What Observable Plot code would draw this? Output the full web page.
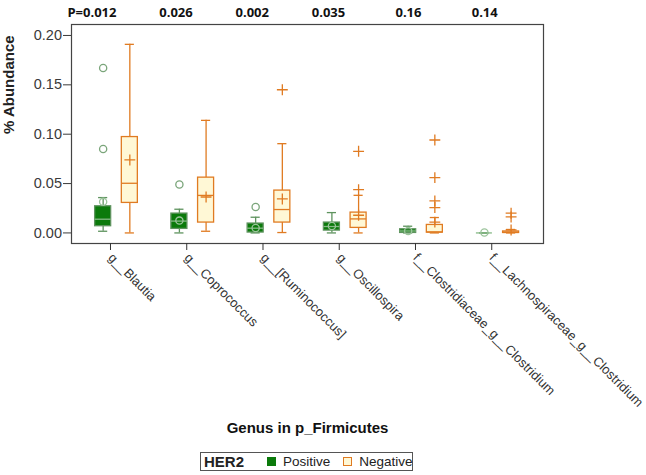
<!DOCTYPE html>
<html>
<head>
<meta charset="utf-8">
<script src="https://cdn.jsdelivr.net/npm/d3@7"></script>
<script src="https://cdn.jsdelivr.net/npm/@observablehq/plot@0.6"></script>
<style>
  html, body { margin: 0; padding: 0; background: #fff; }
  #wrap { position: relative; width: 646px; height: 475px; font-family: "Liberation Sans", Arial, sans-serif; }
  #legend { position: absolute; left: 200px; top: 452px; width: 211px; height: 17px; border: 1px solid #555;
            display: flex; align-items: center; font-size: 13.5px; color: #222; box-sizing: content-box; }
  #legend .title { font-weight: bold; font-size: 15px; margin-left: 3px; margin-right: 23px; }
  #legend .sw { width: 9px; height: 9px; display: inline-block; margin-right: 7px; box-sizing: border-box; }
  #legend .item { display: flex; align-items: center; margin-right: 13px; }
</style>
</head>
<body>
<div id="wrap"><div id="chart"></div><div id="legend"></div></div>
<script>
const genus = ["g__Blautia", "g__Coprococcus", "g__[Ruminococcus]", "g__Oscillospira",
               "f__Clostridiaceae_g__Clostridium", "f__Lachnospiraceae_g__Clostridium"];
const pValues = ["P=0.012", "0.026", "0.002", "0.035", "0.16", "0.14"];
const groups = ["Positive", "Negative"];
const legendTitle = "HER2";
const yTicks = [0, 0.05, 0.10, 0.15, 0.20];

// HER2 Positive
const posLow    = [0.0017, 0.0000, 0.0000, 0.0000, 0.0000, 0.0000];
const posQ1     = [0.0068, 0.0041, 0.0004, 0.0024, 0.0000, 0.0000];
const posMedian = [0.0139, 0.0120, 0.0048, 0.0065, 0.0020, 0.0000];
const posQ3     = [0.0270, 0.0196, 0.0095, 0.0105, 0.0037, 0.0000];
const posHigh   = [0.0358, 0.0240, 0.0159, 0.0206, 0.0068, 0.0000];
const posMean   = [0.0315, 0.0125, 0.0050, 0.0070, 0.0020, 0.0005];
const posOutliers = [[0.1670, 0.0850], [0.0490], [0.0263], [], [], []];

// HER2 Negative
const negLow    = [0.0000, 0.0017, 0.0004, 0.0000, 0.0000, 0.0000];
const negQ1     = [0.0304, 0.0105, 0.0105, 0.0051, 0.0003, 0.0000];
const negMedian = [0.0503, 0.0380, 0.0237, 0.0142, 0.0010, 0.0005];
const negQ3     = [0.0971, 0.0560, 0.0429, 0.0206, 0.0081, 0.0015];
const negHigh   = [0.1910, 0.1140, 0.0904, 0.0381, 0.0156, 0.0035];
const negMean   = [0.0739, 0.0364, 0.0344, 0.0179, 0.0110, 0.0030];
const negOutliers = [[], [], [0.1450], [0.0439, 0.0827], [0.0257, 0.0324, 0.0560, 0.0941], [0.0162, 0.0200]];

const style = {
  Positive: {off: -0.175, fill: "#0b7a0b", stroke: "#5e935e", median: "#86b986", mean: "#9cc49c", out: "#7aa57a", symbol: "circle", r: 3.6},
  Negative: {off: 0.175, fill: "#fff8d6", stroke: "#e07b22", median: "#e07b22", mean: "#e07b22", out: "#e07b22", symbol: "plus", r: 3.6}
};

function buildRows(group, low, q1, med, q3, high, mean) {
  return genus.map((g, i) => ({i, group, x: i + style[group].off, low: low[i], q1: q1[i], median: med[i], q3: q3[i], high: high[i], mean: mean[i]}));
}
const rowsPos = buildRows("Positive", posLow, posQ1, posMedian, posQ3, posHigh, posMean);
const rowsNeg = buildRows("Negative", negLow, negQ1, negMedian, negQ3, negHigh, negMean);
const outPos = posOutliers.flatMap((vs, i) => vs.map(v => ({x: i + style.Positive.off, v})));
const outNeg = negOutliers.flatMap((vs, i) => vs.map(v => ({x: i + style.Negative.off, v})));

const BW = 0.105, CW = 0.06;
function boxMarks(rows, outs, s) {
  return [
    Plot.ruleX(rows, {x: "x", y1: "low", y2: "q1", stroke: s.stroke, strokeWidth: 1.3}),
    Plot.ruleX(rows, {x: "x", y1: "q3", y2: "high", stroke: s.stroke, strokeWidth: 1.3}),
    Plot.ruleY(rows, {y: "high", x1: d => d.x - CW, x2: d => d.x + CW, stroke: s.stroke, strokeWidth: 1.3}),
    Plot.ruleY(rows, {y: "low", x1: d => d.x - CW, x2: d => d.x + CW, stroke: s.stroke, strokeWidth: 1.3}),
    Plot.rect(rows, {x1: d => d.x - BW, x2: d => d.x + BW, y1: "q1", y2: "q3", fill: s.fill, stroke: s.stroke, strokeWidth: 1.3}),
    Plot.ruleY(rows, {y: "median", x1: d => d.x - BW, x2: d => d.x + BW, stroke: s.median, strokeWidth: 1.3}),
    Plot.dot(rows, {x: "x", y: "mean", symbol: s.symbol, r: s.r, stroke: s.mean, fill: "none", strokeWidth: 1.3}),
    Plot.dot(outs, {x: "x", y: "v", symbol: s.symbol, r: s.r, stroke: s.out, fill: "none", strokeWidth: 1.3})
  ];
}

const chart = Plot.plot({
  width: 646,
  height: 445,
  marginLeft: 71,
  marginRight: 103,
  marginTop: 24,
  marginBottom: 202,
  style: {fontFamily: "Liberation Sans, Arial, sans-serif", overflow: "visible", background: "transparent"},
  x: {domain: [-0.59, 5.60]},
  y: {domain: [-0.0107, 0.2111]},
  marks: [
    ...boxMarks(rowsPos, outPos, style.Positive),
    ...boxMarks(rowsNeg, outNeg, style.Negative),
    Plot.frame({stroke: "#444", strokeWidth: 1.2}),
    Plot.axisY({ticks: yTicks, tickFormat: d3.format(".2f"), tickSize: 8, tickPadding: 1.5, fontSize: 14.5, color: "#3a3a3a", label: null}),
    Plot.axisX({ticks: d3.range(genus.length), tickFormat: i => genus[i], tickSize: 7, tickPadding: 5, tickRotate: 45, fontSize: 13, color: "#333", label: null, dx: -6}),
    Plot.text(pValues, {x: (d, i) => i, text: d => d, frameAnchor: "top", dy: -17, textAnchor: "end", fontWeight: "bold", fontSize: 13, fontFamily: "Open Sans", fill: "#111"}),
    Plot.text(["% Abundance"], {frameAnchor: "left", dx: -62, rotate: -90, fontWeight: "bold", fontSize: 15, fill: "#222"}),
    Plot.text(["Genus in p_Firmicutes"], {frameAnchor: "bottom", dy: 189, fontWeight: "bold", fontSize: 15, fill: "#111"})
  ]
});
document.getElementById("chart").appendChild(chart);

const legend = document.getElementById("legend");
const t = document.createElement("span"); t.className = "title"; t.textContent = legendTitle; legend.appendChild(t);
groups.forEach(g => {
  const it = document.createElement("span"); it.className = "item";
  const sw = document.createElement("span"); sw.className = "sw";
  sw.style.background = style[g].fill;
  sw.style.border = "1px solid " + (g === "Positive" ? style[g].fill : style[g].stroke);
  const lb = document.createElement("span"); lb.textContent = g;
  it.appendChild(sw); it.appendChild(lb); legend.appendChild(it);
});
</script>
</body>
</html>
